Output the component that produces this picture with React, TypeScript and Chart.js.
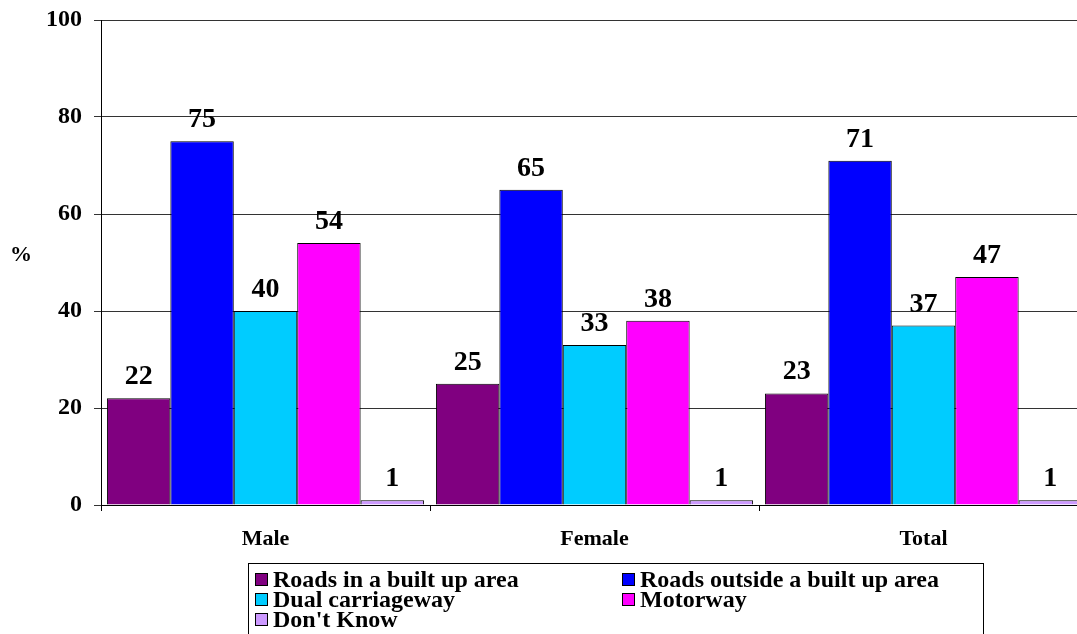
import React, { useEffect, useRef } from "react";
import { Chart, registerables } from "chart.js";

Chart.register(...registerables);

const categories = ["Male", "Female", "Total"];
const builtUp = [22, 25, 23];
const outsideBuiltUp = [75, 65, 71];
const dualCarriageway = [40, 33, 37];
const motorway = [54, 38, 47];
const dontKnow = [1, 1, 1];
const seriesNames = [
  "Roads in a built up area",
  "Roads outside a built up area",
  "Dual carriageway",
  "Motorway",
  "Don't Know",
];
const seriesValues = [builtUp, outsideBuiltUp, dualCarriageway, motorway, dontKnow];
const seriesColors = ["#800080", "#0000FF", "#00CCFF", "#FF00FF", "#CC99FF"];
const yMin = 0;
const yMax = 100;
const yStep = 20;
const yTitle = "%";

const FONT = "'Liberation Serif', 'Times New Roman', serif";

const labelPlugin = {
  id: "valueLabels",
  afterDatasetsDraw(chart: any) {
    const ctx = chart.ctx;
    ctx.save();
    ctx.fillStyle = "#000";
    ctx.font = `bold 28px ${FONT}`;
    ctx.textAlign = "center";
    ctx.textBaseline = "alphabetic";
    chart.data.datasets.forEach((ds: any, i: number) => {
      const meta = chart.getDatasetMeta(i);
      meta.data.forEach((bar: any, j: number) => {
        ctx.fillText(String(ds.data[j]), bar.x, bar.y - 14);
      });
    });
    const ca = chart.chartArea;
    ctx.font = `bold 22px ${FONT}`;
    ctx.textBaseline = "middle";
    ctx.fillText(yTitle, 21, (ca.top + ca.bottom) / 2 - 7);
    ctx.restore();
  },
};

export default function App() {
  const ref = useRef<HTMLCanvasElement | null>(null);

  useEffect(() => {
    document.body.style.margin = "0";
    const canvas = ref.current!;
    const chart = new Chart(canvas, {
      type: "bar",
      data: {
        labels: categories,
        datasets: seriesNames.map((name, i) => ({
          label: name,
          data: seriesValues[i],
          backgroundColor: seriesColors[i],
          borderColor: "#000",
          borderWidth: 1,
          categoryPercentage: 0.964,
          barPercentage: 1,
        })),
      },
      options: {
        responsive: false,
        animation: false,
        layout: { padding: { top: 20, right: 4, left: 0, bottom: 0 } },
        plugins: { legend: { display: false }, tooltip: { enabled: false } },
        scales: {
          x: {
            grid: {
              display: true,
              offset: true,
              drawOnChartArea: false,
              drawTicks: true,
              tickLength: 6,
              color: "#000",
            },
            border: { display: true, color: "#000", width: 1 },
            ticks: {
              font: { family: FONT, weight: "bold", size: 22 },
              color: "#000",
              padding: 15,
            },
            afterFit: (s: any) => {
              s.height = 129;
              s.paddingLeft = 0;
              s.paddingRight = 0;
            },
          },
          y: {
            min: yMin,
            max: yMax,
            ticks: {
              stepSize: yStep,
              font: { family: FONT, weight: "bold", size: 24 },
              color: "#000",
              padding: 12,
            },
            grid: { color: "#333", tickLength: 7, drawTicks: true },
            border: { display: true, color: "#000", width: 1 },
            afterFit: (s: any) => {
              s.width = 101;
              s.paddingTop = 0;
              s.paddingBottom = 0;
            },
          },
        },
      },
      plugins: [labelPlugin],
    } as any);
    return () => chart.destroy();
  }, []);

  const legendItem = (i: number) => (
    <div
      key={i}
      style={{ display: "flex", alignItems: "center", height: 20, whiteSpace: "nowrap" }}
    >
      <span
        style={{
          display: "inline-block",
          width: 11,
          height: 11,
          background: seriesColors[i],
          border: "1px solid #000",
          marginRight: 5,
          flex: "none",
        }}
      />
      <span>{seriesNames[i]}</span>
    </div>
  );

  return (
    <div
      style={{
        position: "fixed",
        left: 0,
        top: 0,
        width: 1077,
        height: 634,
        overflow: "hidden",
        background: "#fff",
      }}
    >
      <canvas ref={ref} width={1092} height={634} style={{ position: "absolute", left: 0, top: 0 }} />
      <div
        style={{
          position: "absolute",
          left: 248,
          top: 563,
          width: 736,
          height: 90,
          border: "1px solid #000",
          boxSizing: "border-box",
          fontFamily: FONT,
          fontWeight: "bold",
          fontSize: 24,
          lineHeight: "20px",
          color: "#000",
          paddingTop: 5,
        }}
      >
        <div style={{ display: "grid", gridTemplateColumns: "367px 360px", paddingLeft: 6 }}>
          {legendItem(0)}
          {legendItem(1)}
          {legendItem(2)}
          {legendItem(3)}
          {legendItem(4)}
        </div>
      </div>
    </div>
  );
}
